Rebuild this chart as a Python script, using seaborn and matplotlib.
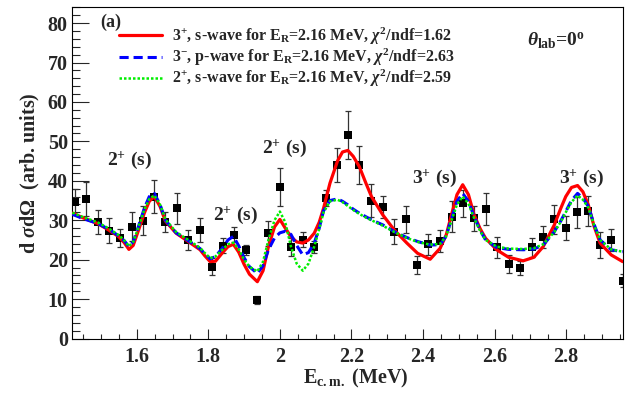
import numpy as np
import pandas as pd
import matplotlib
matplotlib.use("Agg")
import matplotlib.pyplot as plt
import seaborn as sns
from matplotlib.ticker import MultipleLocator

# ---------------- data ----------------
x_data = [1.426, 1.457, 1.491, 1.523, 1.553, 1.586, 1.617, 1.649, 1.680, 1.713,
          1.744, 1.777, 1.810, 1.840, 1.872, 1.906, 1.937, 1.968, 2.000, 2.031,
          2.064, 2.096, 2.128, 2.161, 2.190, 2.222, 2.256, 2.288, 2.320, 2.353,
          2.383, 2.415, 2.448, 2.480, 2.511, 2.543, 2.575, 2.606, 2.639, 2.671,
          2.704, 2.736, 2.767, 2.799, 2.830, 2.862, 2.895, 2.926, 2.958]
y_data = [34.6, 35.4, 29.6, 27.3, 25.4, 28.4, 29.9, 36.0, 29.6, 33.0,
          25.0, 27.5, 18.2, 23.5, 26.3, 22.5, 9.8, 26.7, 38.4, 23.1,
          25.0, 23.3, 35.6, 44.0, 51.6, 44.0, 34.9, 33.3, 27.1, 30.2,
          18.7, 23.9, 24.7, 30.9, 34.3, 30.5, 32.9, 23.1, 18.8, 17.8,
          23.1, 25.7, 30.2, 28.1, 32.0, 32.4, 23.7, 25.0, 14.7]
y_err = [3.3, 4.4, 3.0, 3.2, 2.3, 3.6, 3.6, 4.2, 2.5, 4.0,
         2.5, 3.0, 2.1, 1.9, 1.9, 1.3, 1.0, 3.2, 4.9, 2.3,
         1.9, 1.5, 2.1, 4.4, 6.1, 4.9, 4.2, 2.8, 3.2, 3.5,
         2.3, 2.7, 2.7, 4.0, 3.4, 3.2, 4.0, 2.7, 2.3, 1.8,
         2.5, 2.8, 3.6, 3.0, 4.0, 3.8, 3.4, 2.7, 1.7]

x_curve = [1.42, 1.45, 1.49, 1.52, 1.55, 1.565, 1.578, 1.59, 1.605, 1.621,
           1.635, 1.649, 1.665, 1.68, 1.71, 1.744, 1.777, 1.79, 1.805, 1.82,
           1.84, 1.855, 1.87, 1.885, 1.9, 1.915, 1.937, 1.953, 1.968, 1.985,
           2.0, 2.015, 2.031, 2.047, 2.064, 2.08, 2.096, 2.11, 2.122, 2.14,
           2.161, 2.175, 2.19, 2.205, 2.222, 2.24, 2.256, 2.288, 2.32, 2.355,
           2.385, 2.42, 2.448, 2.465, 2.48, 2.495, 2.511, 2.527, 2.543, 2.56,
           2.575, 2.606, 2.639, 2.68, 2.71, 2.736, 2.767, 2.785, 2.799, 2.815,
           2.832, 2.847, 2.862, 2.878, 2.895, 2.926, 2.958]
red_3p_s = [31.8, 30.6, 29.2, 27.6, 25.8, 24.3, 22.6, 23.6, 27.5, 31.8,
            34.8, 36.0, 33.5, 29.8, 26.7, 24.6, 22.5, 21.0, 19.5, 19.6,
            21.8, 23.3, 23.9, 21.9, 18.8, 16.3, 14.4, 17.2, 23.3, 28.3,
            30.2, 28.0, 25.8, 24.5, 24.2, 25.0, 26.7, 29.5, 33.0, 39.4,
            45.0, 47.3, 47.7, 46.2, 43.6, 39.5, 36.0, 31.3, 27.5, 24.2,
            21.6, 20.1, 22.9, 26.3, 31.5, 36.5, 39.0, 36.5, 31.3, 27.8,
            25.4, 22.5, 20.6, 19.7, 20.6, 23.3, 28.8, 33.0, 36.0, 38.3,
            38.8, 37.2, 33.9, 28.5, 24.2, 21.2, 19.5]
blue_3m_p = [31.5, 30.4, 29.2, 27.8, 26.0, 24.8, 23.3, 24.5, 28.5, 33.0,
             36.0, 36.8, 34.0, 30.0, 26.8, 24.8, 22.8, 21.5, 20.2, 20.8,
             23.0, 25.0, 25.9, 23.5, 20.5, 18.2, 16.5, 18.5, 22.5, 25.5,
             26.8, 27.2, 26.4, 23.6, 21.2, 21.8, 24.2, 28.0, 32.4, 35.0,
             35.4, 34.8, 33.9, 32.8, 31.8, 30.9, 30.1, 28.8, 27.1, 25.6,
             24.6, 23.7, 23.8, 26.0, 30.5, 34.8, 36.8, 34.8, 30.9, 27.4,
             25.0, 23.1, 22.6, 22.5, 22.7, 23.7, 27.1, 29.8, 32.2, 35.0,
             36.8, 35.6, 33.5, 29.0, 25.0, 22.5, 22.0]
green_2p_s = [31.9, 30.8, 29.5, 28.0, 26.2, 24.9, 23.4, 24.5, 28.3, 32.6,
              35.4, 36.3, 34.0, 30.2, 27.0, 25.0, 23.0, 21.7, 20.4, 20.8,
              22.6, 23.9, 24.3, 22.6, 20.0, 18.2, 17.0, 19.5, 25.0, 30.0,
              32.2, 29.5, 23.3, 19.0, 17.2, 19.0, 23.3, 27.8, 32.0, 34.8,
              35.2, 34.6, 33.6, 32.6, 31.6, 30.7, 30.0, 28.6, 27.0, 25.5,
              24.5, 23.8, 24.0, 26.0, 30.0, 34.0, 36.0, 34.2, 30.5, 27.2,
              25.0, 23.3, 22.8, 22.7, 22.9, 23.9, 27.0, 29.6, 32.0, 34.6,
              36.3, 35.2, 33.2, 28.8, 25.0, 22.6, 22.0]

labels = [r"$3^{+}$, s-wave for $\mathrm{E}_{\mathrm{R}}$=2.16 MeV, $\chi^{2}$/ndf=1.62",
          r"$3^{-}$, p-wave for $\mathrm{E}_{\mathrm{R}}$=2.16 MeV, $\chi^{2}$/ndf=2.63",
          r"$2^{+}$, s-wave for $\mathrm{E}_{\mathrm{R}}$=2.16 MeV, $\chi^{2}$/ndf=2.59"]
peak_labels = [r"$2^{+}$ (s)", r"$2^{+}$ (s)", r"$2^{+}$ (s)", r"$3^{+}$ (s)", r"$3^{+}$ (s)"]
peak_x = [1.580, 1.877, 2.012, 2.432, 2.842]
peak_y = [45.3, 31.3, 48.4, 40.7, 40.7]

# ---------------- style ----------------
sns.set_style("ticks")
plt.rcParams["font.family"] = ["Liberation Serif", "DejaVu Serif"]
plt.rcParams["font.weight"] = "bold"
plt.rcParams["mathtext.fontset"] = "custom"
plt.rcParams["mathtext.rm"] = "Liberation Serif:bold"
plt.rcParams["mathtext.it"] = "Liberation Serif:italic:bold"
plt.rcParams["mathtext.bf"] = "Liberation Serif:bold"

fig = plt.figure(figsize=(6.26, 3.94), dpi=100)
ax = fig.add_axes([72 / 626, 1 - 338.5 / 394, 551 / 626, 331.2 / 394])

df_pts = pd.DataFrame({"E": x_data, "y": y_data, "err": y_err})
ax.errorbar(df_pts["E"], df_pts["y"], yerr=df_pts["err"], fmt="none",
            ecolor="#333333", elinewidth=0.9, capsize=2.0, capthick=0.9, zorder=2)
sns.scatterplot(data=df_pts, x="E", y="y", marker="s", color="black", s=30,
                edgecolor="black", linewidth=0, ax=ax, zorder=3)

df_c = pd.DataFrame({"E": x_curve, "red": red_3p_s, "blue": blue_3m_p, "green": green_2p_s})
sns.lineplot(data=df_c, x="E", y="red", color="#ff0000", lw=2.3, ax=ax,
             label=labels[0], zorder=4, sort=False)
sns.lineplot(data=df_c, x="E", y="blue", color="#0000ff", lw=2.2, ax=ax,
             label=labels[1], zorder=5, sort=False, linestyle=(0, (3, 1.6)))
sns.lineplot(data=df_c, x="E", y="green", color="#00ee00", lw=1.8, ax=ax,
             label=labels[2], zorder=6, sort=False, linestyle=(0, (1, 0.8)))

ax.set_xlim(1.419, 2.959)
ax.set_ylim(0, 84)
ax.xaxis.set_major_locator(MultipleLocator(0.2))
ax.xaxis.set_minor_locator(MultipleLocator(0.05))
ax.yaxis.set_major_locator(MultipleLocator(10))
ax.yaxis.set_minor_locator(MultipleLocator(2))
ax.tick_params(axis="both", which="both", direction="in", top=False, right=False,
               labelsize=14.5, width=0.8)
ax.tick_params(axis="x", which="major", length=7.2, pad=6)
ax.tick_params(axis="x", which="minor", length=3.6)
ax.tick_params(axis="y", which="major", length=11.9, pad=3)
ax.tick_params(axis="y", which="minor", length=5.9)
ax.xaxis.set_major_formatter(matplotlib.ticker.FuncFormatter(lambda v, p: f"{v:g}"))
for sp in ax.spines.values():
    sp.set_visible(True)
    sp.set_linewidth(0.8)
    sp.set_color("black")

ax.set_xlabel(r"E$_{\mathrm{c.m.}}$ (MeV)", fontsize=14.5, fontweight="bold", labelpad=2)
ax.xaxis.set_label_coords(0.515, -0.085)
ax.set_ylabel(r"d $\sigma$d$\Omega$  (arb. units)", fontsize=14.5, fontweight="bold", labelpad=4)

leg = ax.legend(loc="upper left", bbox_to_anchor=(0.085, 0.945), frameon=False,
                fontsize=11.5, handlelength=2.7, handletextpad=0.6, labelspacing=0.0,
                borderaxespad=0, borderpad=0)

for t, xx, yy in zip(peak_labels, peak_x, peak_y):
    ax.text(xx, yy, t, ha="center", va="center", fontsize=14, fontweight="bold")

ax.text(0.07, 0.955, "(a)", transform=ax.transAxes, ha="center", va="center",
        fontsize=13, fontweight="bold")
ax.text(0.878, 0.898, r"$\theta_{\mathrm{lab}}$=0$^{\mathrm{o}}$", transform=ax.transAxes,
        ha="center", va="center", fontsize=14)

fig.savefig("out.png", dpi=100)
